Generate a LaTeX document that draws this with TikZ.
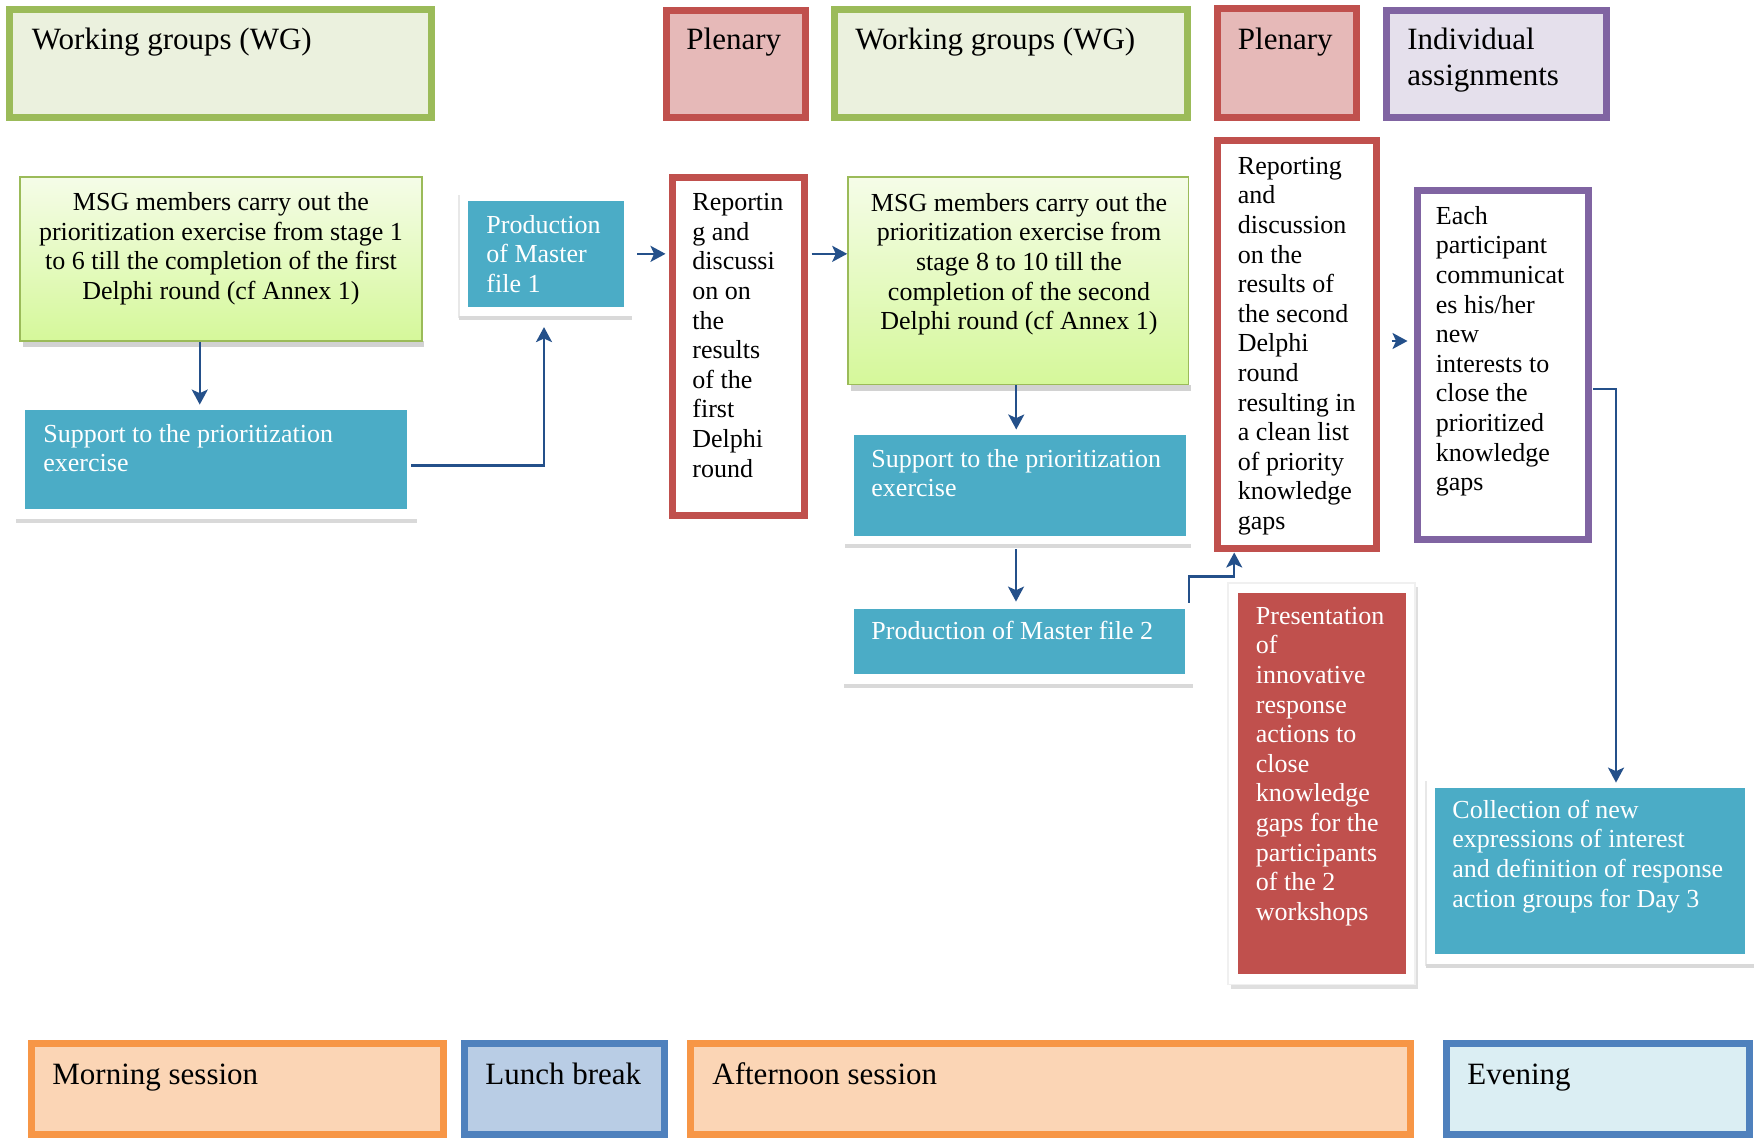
\documentclass[tikz,border=0pt]{standalone}
\usepackage{fontspec}
\setmainfont{Liberation Serif}
\usetikzlibrary{arrows.meta,fit,calc}
\definecolor{grline}{HTML}{9BBB59}
\definecolor{grfill}{HTML}{EBF1DE}
\definecolor{rdline}{HTML}{C0504D}
\definecolor{rdfill}{HTML}{E6B9B8}
\definecolor{puline}{HTML}{8064A2}
\definecolor{pufill}{HTML}{E5E0EC}
\definecolor{orline}{HTML}{F79646}
\definecolor{orfill}{HTML}{FBD5B5}
\definecolor{blline}{HTML}{4F81BD}
\definecolor{blfill}{HTML}{B9CDE5}
\definecolor{evfill}{HTML}{DBEEF3}
\definecolor{teal}{HTML}{4BACC6}
\definecolor{msgtop}{HTML}{F5FCE8}
\definecolor{msgbot}{HTML}{D5F89A}
\definecolor{arrowc}{HTML}{24508A}
\begin{document}
\begin{tikzpicture}[x=0.5pt,y=-0.5pt,
  hdr/.style={draw, line width=3.5pt, inner sep=0pt},
  flat/.style={fill=teal, inner sep=0pt},
  msgbox/.style={draw=grline, line width=0.8pt, top color=msgtop, bottom color=msgbot, inner sep=0pt},
  htext/.style={anchor=north west, inner sep=0pt, align=left, font=\fontsize{15.5}{18}\selectfont},
  btext/.style={anchor=north west, inner sep=0pt, align=left, font=\fontsize{13}{14.8}\selectfont},
  wtext/.style={btext, text=white},
  shline/.style={draw=gray!30, line width=1.6pt},
  thinline/.style={draw=gray!18, line width=0.8pt},
  arr/.style={draw=arrowc, line width=1.2pt, -{Stealth[length=7.5pt,width=8pt,inset=1.8pt]}}
]
\useasboundingbox (0,0) rectangle (1764,1138);

% header row
\node[hdr, draw=grline, fill=grfill, fit={(9,10)(431,118)}] (wg1) {};
\node[hdr, draw=rdline, fill=rdfill, fit={(666,10.5)(805,118)}] (plen1) {};
\node[hdr, draw=grline, fill=grfill, fit={(834.5,10)(1187.5,117.5)}] (wg2) {};
\node[hdr, draw=rdline, fill=rdfill, fit={(1217.5,9)(1356.5,117.5)}] (plen2) {};
\node[hdr, draw=puline, fill=pufill, fit={(1386,10.5)(1606.5,117.5)}] (indiv) {};
\node[htext] at (31.5,24.3) {\strut Working groups (WG)};
\node[htext] at (686,24.3) {\strut Plenary};
\node[htext] at (855,24.3) {\strut Working groups (WG)};
\node[htext] at (1237.5,24.3) {\strut Plenary};
\node[htext] at (1407,24.3) {\strut Individual\\assignments};

% bottom row
\node[hdr, draw=orline, fill=orfill, fit={(31.5,1043)(443.5,1134.5)}] (morning) {};
\node[hdr, draw=blline, fill=blfill, fit={(464.5,1043)(664.5,1134.5)}] (lunch) {};
\node[hdr, draw=orline, fill=orfill, fit={(690.5,1043)(1410,1134.5)}] (afternoon) {};
\node[hdr, draw=blline, fill=evfill, fit={(1446.5,1043)(1749,1134.5)}] (evening) {};
\node[htext] at (52,1058.8) {\strut Morning session};
\node[htext] at (485,1058.8) {\strut Lunch break};
\node[htext] at (712,1058.8) {\strut Afternoon session};
\node[htext] at (1467,1058.8) {\strut Evening};

% shadows and frames
\fill[gray!35] (23,341) rectangle (424,347.5);
\fill[gray!35] (851,384.6) rectangle (1191,391.5);
\draw[shline] (16,521) -- (417,521);
\draw[thinline] (459,195) -- (459,318);
\draw[shline] (459,318) -- (632,318);
\draw[shline] (845,546) -- (1191,546);
\draw[shline] (844,686) -- (1193,686);
\draw[thinline] (1426,781) -- (1426,966);
\draw[shline] (1426,966) -- (1754,966);
\fill[gray!25] (1231,587) rectangle (1418,988.5);
\draw[fill=white, draw=gray!12, line width=0.6pt] (1228,583) rectangle (1415,984.5);

% body boxes
\node[msgbox, fit={(19.7,177)(421.8,341)}] (msg1) {};
\node[msgbox, fit={(848,177)(1188.5,384.6)}] (msg2) {};
\node[flat, fit={(25,410)(407,509)}] (sup1) {};
\node[flat, fit={(468,201)(624,306.7)}] (prod1) {};
\node[flat, fit={(854,434.7)(1186,536.3)}] (sup2) {};
\node[flat, fit={(854,609)(1184.6,673.5)}] (prod2) {};
\node[flat, fit={(1435,788)(1745,953.6)}] (coll) {};
\node[fill=rdline, inner sep=0pt, fit={(1237.5,592.6)(1406,973.6)}] (pres) {};
\node[hdr, draw=rdline, fill=white, fit={(672.5,177.5)(804.5,515.5)}] (rep1) {};
\node[hdr, draw=rdline, fill=white, fit={(1217.5,140.5)(1376.5,548)}] (rep2) {};
\node[hdr, draw=puline, fill=white, fit={(1417.5,191)(1588,539)}] (each) {};

% body texts
\node[btext, anchor=north, align=center] at (221,189.6) {\strut MSG members carry out the\\prioritization exercise from stage 1\\to 6 till the completion of the first\\Delphi round (cf Annex 1)};
\node[btext, anchor=north, align=center] at (1019,190.2) {\strut MSG members carry out the\\prioritization exercise from\\stage 8 to 10 till the\\completion of the second\\Delphi round (cf Annex 1)};
\node[wtext] at (43,421.2) {\strut Support to the prioritization\\exercise};
\node[wtext] at (486,212.2) {\strut Production\\of Master\\file 1};
\node[btext] at (692,189.6) {\strut Reportin\\g and\\discussi\\on on\\the\\results\\of the\\first\\Delphi\\round};
\node[btext] at (1237.5,153.2) {\strut Reporting\\and\\discussion\\on the\\results of\\the second\\Delphi\\round\\resulting in\\a clean list\\of priority\\knowledge\\gaps};
\node[btext] at (1435.5,203.2) {\strut Each\\participant\\communicat\\es his/her\\new\\interests to\\close the\\prioritized\\knowledge\\gaps};
\node[wtext] at (1255.5,603.2) {\strut Presentation\\of\\innovative\\response\\actions to\\close\\knowledge\\gaps for the\\participants\\of the 2\\workshops};
\node[wtext] at (1452,797.2) {\strut Collection of new\\expressions of interest\\and definition of response\\action groups for Day 3};
\node[wtext] at (871,446.2) {\strut Support to the prioritization\\exercise};
\node[wtext] at (871,618.2) {\strut Production of Master file 2};

% connectors
\coordinate (a1) at ($(msg1.south)+(-21,0)$);
\draw[arr, shorten >=2.5pt] (a1) -- (a1 |- sup1.north);
\draw[arr] ($(sup1.east)+(3.6,6)$) -| ($(prod1.south)+(-2,20)$);
\draw[arr, shorten <=6.3pt, shorten >=1.75pt] (prod1.east) -- (rep1.west |- prod1.east);
\draw[arr, shorten <=1.75pt] (rep1.east |- prod1.east) -- (msg2.west |- prod1.east);
\coordinate (b1) at ($(msg2.south)+(-2,0)$);
\draw[arr, shorten >=2.4pt] (b1) -- (b1 |- sup2.north);
\coordinate (b2) at ($(sup2.south)+(-4,12.7)$);
\draw[arr, shorten >=3.5pt] (b2) -- (b2 |- prod2.north);
\draw[arr] ($(prod2.north east)+(3.7,-6)$) -- ++(0,-26.3) -| ($(rep2.south west)+(20.2,1)$);
\coordinate (c1) at ($(each.west)+(0,-24)$);
\draw[arr, shorten <=5.75pt, shorten >=3.25pt] (c1 -| rep2.east) -- (c1);
\draw[arr, shorten >=2.5pt] ($(each.east)+(1.75,24)$) -| ($(coll.north)+(26,0)$);
\end{tikzpicture}
\end{document}
